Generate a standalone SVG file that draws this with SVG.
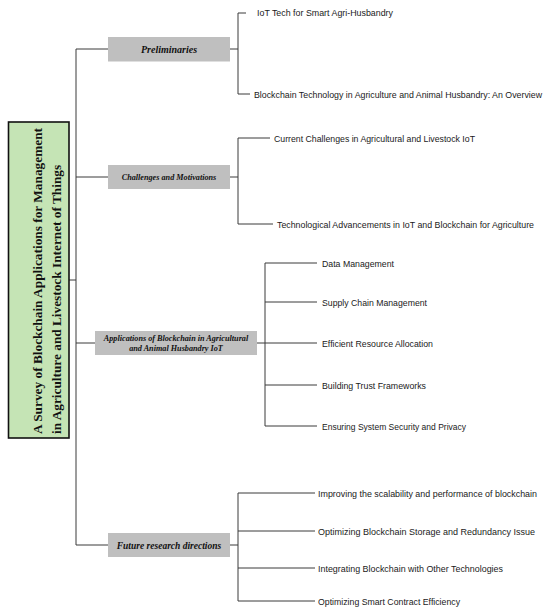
<svg xmlns="http://www.w3.org/2000/svg" width="550" height="614" viewBox="0 0 550 614">
<style>
.ln{stroke:#3a3a3a;stroke-width:1;fill:none}
.gb{fill:#bfbfbf}
.gt{font-family:"Liberation Serif","Times New Roman",serif;font-weight:bold;font-style:italic;fill:#111;text-anchor:middle}
.lf{font-family:"Liberation Sans",Arial,sans-serif;font-size:8.6px;fill:#1a1a1a}
.tt{font-family:"Liberation Serif","Times New Roman",serif;font-weight:bold;font-size:13.3px;fill:#111}
</style>
<rect width="550" height="614" fill="#fff"/>
<g id="connectors">
<path class="ln" d="M76 49V545M69 280H76M76 49H108M76 177H108M76 343H95M76 545H108"/>
<path class="ln" d="M230 49H238M238 13V94M238 13H246M238 94H250"/>
<path class="ln" d="M230 177H238M238 138V224M238 138H270M238 224H273"/>
<path class="ln" d="M257 343H265M265 263V426M265 263H317M265 302H317M265 343H317M265 385H317M265 426H317"/>
<path class="ln" d="M230 545H238M238 493V601M238 493H315M238 531H315M238 568H315M238 601H315"/>
</g>
<g id="root">
<rect x="8.5" y="122" width="60.5" height="316" fill="#c5e4b5" stroke="#111" stroke-width="1.6"/>
<text class="tt" transform="translate(42 434) rotate(-90)" textLength="306" lengthAdjust="spacingAndGlyphs">A Survey of Blockchain Applications for Management</text>
<text class="tt" transform="translate(60.5 434) rotate(-90)">in Agriculture and Livestock Internet of Things</text>
</g>
<g id="preliminaries">
<rect class="gb" x="108" y="37" width="122" height="24.5"/>
<text class="gt" x="169" y="52.5" font-size="10">Preliminaries</text>
</g>
<g id="challenges">
<rect class="gb" x="108" y="165" width="122" height="24"/>
<text class="gt" x="169" y="180" font-size="8.2">Challenges and Motivations</text>
</g>
<g id="applications">
<rect class="gb" x="95" y="331" width="162" height="24"/>
<text class="gt" x="176" y="341" font-size="8.2">Applications of Blockchain in Agricultural</text>
<text class="gt" x="176" y="351" font-size="8.2">and Animal Husbandry IoT</text>
</g>
<g id="future">
<rect class="gb" x="108" y="533" width="122" height="24"/>
<text class="gt" x="169" y="548.5" font-size="9.5">Future research directions</text>
</g>
<g id="leaf-prelim-1"><text class="lf" x="257" y="16" textLength="136" lengthAdjust="spacingAndGlyphs">IoT Tech for Smart Agri-Husbandry</text></g>
<g id="leaf-prelim-2"><text class="lf" x="254" y="97.5" textLength="288" lengthAdjust="spacingAndGlyphs">Blockchain Technology in Agriculture and Animal Husbandry: An Overview</text></g>
<g id="leaf-chal-1"><text class="lf" x="274" y="141.5" textLength="201" lengthAdjust="spacingAndGlyphs">Current Challenges in Agricultural and Livestock IoT</text></g>
<g id="leaf-chal-2"><text class="lf" x="277" y="227.5" textLength="257" lengthAdjust="spacingAndGlyphs">Technological Advancements in IoT and Blockchain for Agriculture</text></g>
<g id="leaf-app-1"><text class="lf" x="322" y="266.5" textLength="72" lengthAdjust="spacingAndGlyphs">Data Management</text></g>
<g id="leaf-app-2"><text class="lf" x="322" y="305.5" textLength="105" lengthAdjust="spacingAndGlyphs">Supply Chain Management</text></g>
<g id="leaf-app-3"><text class="lf" x="322" y="346.5" textLength="111" lengthAdjust="spacingAndGlyphs">Efficient Resource Allocation</text></g>
<g id="leaf-app-4"><text class="lf" x="322" y="388.5" textLength="104" lengthAdjust="spacingAndGlyphs">Building Trust Frameworks</text></g>
<g id="leaf-app-5"><text class="lf" x="322" y="429.5" textLength="144" lengthAdjust="spacingAndGlyphs">Ensuring System Security and Privacy</text></g>
<g id="leaf-fut-1"><text class="lf" x="318" y="496.5" textLength="219" lengthAdjust="spacingAndGlyphs">Improving the scalability and performance of blockchain</text></g>
<g id="leaf-fut-2"><text class="lf" x="318" y="534.5" textLength="217" lengthAdjust="spacingAndGlyphs">Optimizing Blockchain Storage and Redundancy Issue</text></g>
<g id="leaf-fut-3"><text class="lf" x="318" y="571.5" textLength="185" lengthAdjust="spacingAndGlyphs">Integrating Blockchain with Other Technologies</text></g>
<g id="leaf-fut-4"><text class="lf" x="318" y="604.5" textLength="142" lengthAdjust="spacingAndGlyphs">Optimizing Smart Contract Efficiency</text></g>
</svg>
